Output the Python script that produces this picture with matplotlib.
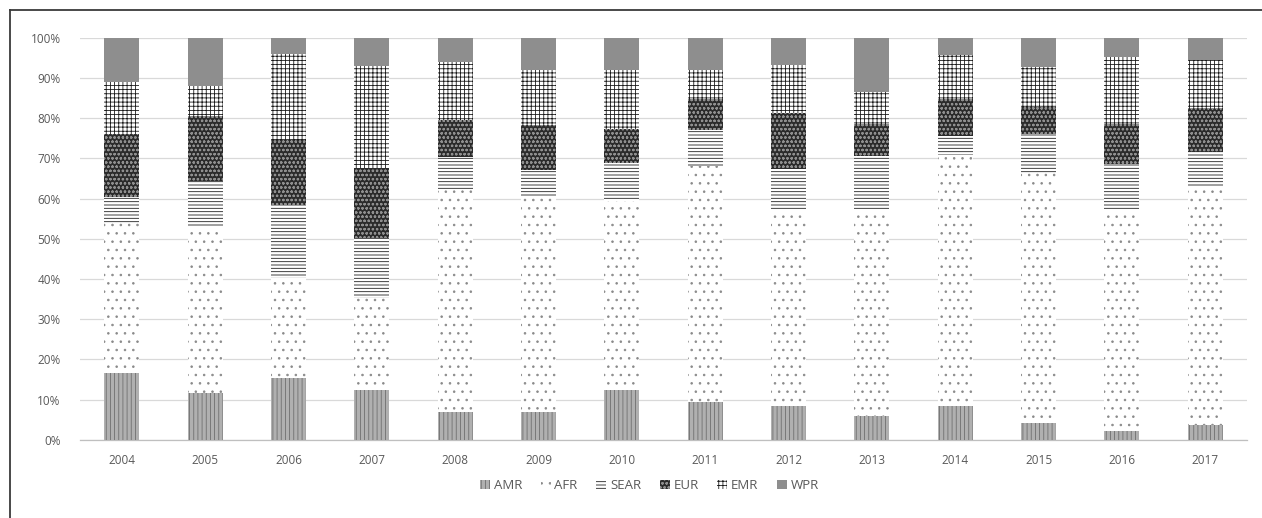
import matplotlib
matplotlib.use("Agg")
import matplotlib.pyplot as plt
from matplotlib.lines import Line2D
import numpy as np

years = ["2004", "2005", "2006", "2007", "2008", "2009", "2010",
         "2011", "2012", "2013", "2014", "2015", "2016", "2017"]
AMR = [16.5, 11.6, 15.3, 12.4, 7.0, 7.0, 12.4, 9.5, 8.3, 5.8, 8.5, 4.1, 2.1, 3.7]
AFR = [37.5, 41.4, 24.9, 22.8, 55.4, 53.5, 46.9, 58.5, 48.9, 51.2, 62.4, 62.2, 54.7, 59.5]
SEAR = [6.5, 11.3, 18.1, 15.0, 7.9, 6.7, 9.5, 9.1, 10.1, 13.5, 4.7, 9.8, 11.9, 8.3]
EUR = [15.5, 16.3, 16.2, 17.4, 9.3, 11.0, 8.6, 7.6, 14.1, 8.1, 9.1, 6.7, 9.9, 11.0]
EMR = [13.0, 7.4, 21.5, 25.4, 14.5, 13.7, 14.5, 7.3, 11.9, 7.8, 11.1, 9.9, 16.6, 12.0]
WPR = [11.0, 12.0, 4.0, 7.0, 5.9, 8.1, 8.1, 8.0, 6.7, 13.6, 4.2, 7.3, 4.8, 5.5]

series = [("AMR", AMR), ("AFR", AFR), ("SEAR", SEAR), ("EUR", EUR), ("EMR", EMR), ("WPR", WPR)]
styles = {
    "AMR": dict(facecolor="#b0b0b0", edgecolor="#6f6f6f", hatch="||||"),
    "AFR": dict(facecolor="#ffffff", edgecolor="#8a8a8a", hatch=".."),
    "SEAR": dict(facecolor="#ffffff", edgecolor="#202020", hatch="-----"),
    "EUR": dict(facecolor="#2b2b2b", edgecolor="#8f8f8f", hatch="oooo"),
    "EMR": dict(facecolor="#ffffff", edgecolor="#1a1a1a", hatch="++++"),
    "WPR": dict(facecolor="#8e8e8e", edgecolor="#8e8e8e", hatch=None),
}

plt.rcParams["font.family"] = ["Open Sans", "DejaVu Sans"]
plt.rcParams["hatch.linewidth"] = 0.6

fig = plt.figure(figsize=(12.62, 5.18), dpi=100)
ax = fig.add_axes([0.0635, 0.151, 0.9245, 0.776])

x = np.arange(len(years))
bottom = np.zeros(len(years))
for name, vals in series:
    v = np.array(vals) / 100.0
    st = styles[name]
    ax.bar(x, v, bottom=bottom, width=0.42, linewidth=0, zorder=3, label=name, **st)
    bottom += v

ax.set_xlim(-0.5, len(years) - 0.5)
ax.set_ylim(0, 1.0)
ticks = np.arange(0, 1.01, 0.1)
ax.set_yticks(ticks)
ax.set_yticklabels([f"{int(round(t*100))}%" for t in ticks])
ax.set_xticks(x)
ax.set_xticklabels(years)
ax.tick_params(axis="both", length=0, labelsize=8.5, labelcolor="#595959")
ax.tick_params(axis="y", pad=14)
ax.tick_params(axis="x", pad=10.5)
ax.grid(axis="y", color="#d9d9d9", linewidth=0.9, zorder=0)
for s in ["top", "right", "left"]:
    ax.spines[s].set_visible(False)
ax.spines["bottom"].set_color("#bfbfbf")
ax.spines["bottom"].set_linewidth(0.9)

leg = ax.legend(loc="center", bbox_to_anchor=(0.488, -0.114), ncol=6, frameon=False,
                fontsize=9.5, handlelength=0.75, handleheight=0.75, handletextpad=0.3,
                columnspacing=1.4, labelcolor="#595959")

# outer frame (top and left edges visible)
fig.add_artist(Line2D([10/1262, 1.0], [1 - 10/518, 1 - 10/518], color="#3a3a3a", linewidth=1.3))
fig.add_artist(Line2D([10/1262, 10/1262], [0, 1 - 10/518], color="#3a3a3a", linewidth=1.3))

fig.savefig("out.png", dpi=100)
